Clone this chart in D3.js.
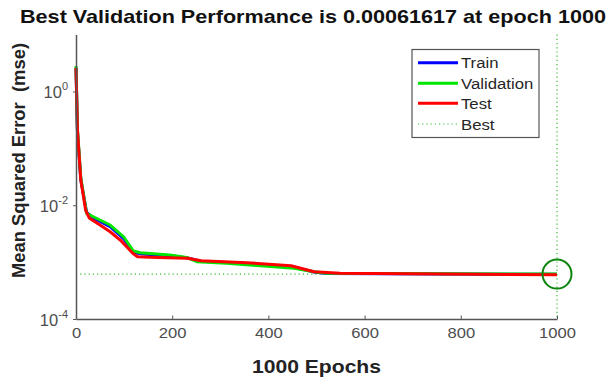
<!DOCTYPE html>
<html><head><meta charset="utf-8">
<script src="https://cdn.jsdelivr.net/npm/d3@7"></script>
<style>body{margin:0;background:#fff}svg{display:block;font-family:"Liberation Sans",Arial,sans-serif}</style>
</head><body><svg id="c" width="613" height="378"></svg>
<script>
const titleText = "Best Validation Performance is 0.00061617 at epoch 1000";
const xLabel = "1000 Epochs";
const yLabel = "Mean Squared Error  (mse)";
const xTicks = [0, 200, 400, 600, 800, 1000];
const yTickExps = [0, -2, -4];
const bestEpoch = 1000;
const bestPerf = 0.00061617;

const trainEpochs = [0, 3, 10, 22, 36, 71, 99, 119, 133, 195, 230, 260, 355, 453, 495, 520, 1000];
const trainValues = [2.6, 0.2, 0.028, 0.0075, 0.0060, 0.0042, 0.0026, 0.00150, 0.00140, 0.00128, 0.00119, 0.00104, 0.00095, 0.00082, 0.00067, 0.00063, 0.00061];
const valEpochs = [0, 3, 10, 22, 36, 71, 99, 119, 133, 195, 230, 251, 313, 453, 495, 520, 1000];
const valValues = [2.8, 0.22, 0.03, 0.0072, 0.00628, 0.00449, 0.00279, 0.00158, 0.00146, 0.00133, 0.00121, 0.00102, 0.000953, 0.000778, 0.000678, 0.00064, 0.00061617];
const testEpochs = [0, 3, 10, 20, 28, 50, 71, 92, 118, 128, 170, 232, 260, 355, 447, 495, 549, 1000];
const testValues = [2.58, 0.21, 0.0277, 0.00824, 0.00589, 0.00449, 0.00342, 0.00244, 0.00143, 0.00124, 0.00121, 0.00117, 0.00106, 0.000975, 0.000865, 0.000678, 0.000635, 0.0006];

const seriesNames = ["Train", "Validation", "Test"];
const seriesColors = ["#0000ff", "#00e600", "#ff0000"];

const svg = d3.select("#c");
const x = d3.scaleLinear().domain([0, 1000]).range([76, 557]);
const y = d3.scaleLog().domain([1e-4, 10]).range([319, 34.6]);

const line = d3.line().x(d => x(d[0])).y(d => y(d[1]));
const series = [
  d3.zip(trainEpochs, trainValues),
  d3.zip(valEpochs, valValues),
  d3.zip(testEpochs, testValues)
];

const bestCol = "#33bb33";
svg.append("line").attr("x1", x(0)).attr("x2", x(1000)).attr("y1", y(bestPerf)).attr("y2", y(bestPerf))
  .attr("stroke", bestCol).attr("stroke-width", 1.2).attr("stroke-dasharray", "1.2,3");
svg.append("line").attr("x1", x(bestEpoch)).attr("x2", x(bestEpoch)).attr("y1", y(10)).attr("y2", y(1e-4))
  .attr("stroke", bestCol).attr("stroke-width", 1.2).attr("stroke-dasharray", "1.2,3");

series.forEach((s, i) => {
  svg.append("path").datum(s).attr("d", line).attr("fill", "none")
    .attr("stroke", seriesColors[i]).attr("stroke-width", 3).attr("stroke-linejoin", "round");
});

svg.append("circle").attr("cx", x(bestEpoch)).attr("cy", y(bestPerf)).attr("r", 14.5)
  .attr("fill", "none").attr("stroke", "#0e850e").attr("stroke-width", 2);

// axes
const axCol = "#555";
const xAxis = svg.append("g").attr("transform", `translate(0,${y(1e-4)})`)
  .call(d3.axisBottom(x).tickValues(xTicks).tickFormat(d3.format("d")).tickSizeInner(-3.5).tickSizeOuter(0).tickPadding(8));
xAxis.select(".domain").attr("stroke", axCol).attr("stroke-width", 1.5);
xAxis.selectAll(".tick line").attr("stroke", axCol);
xAxis.selectAll(".tick text").attr("fill", "#4d4d4d").attr("font-size", 15.5)
  .attr("font-family", "Liberation Sans, Arial, sans-serif").attr("transform", "scale(1.07,1)");

const yAxis = svg.append("g").attr("transform", `translate(${x(0)},0)`)
  .call(d3.axisLeft(y).tickValues(yTickExps.map(e => Math.pow(10, e))).tickSizeInner(3).tickSizeOuter(0).tickFormat(""));
yAxis.select(".domain").attr("stroke", axCol).attr("stroke-width", 1.5);
yAxis.selectAll(".tick line").attr("stroke", axCol);
yTickExps.forEach(e => {
  const t = svg.append("text").attr("x", 68).attr("y", y(Math.pow(10, e)) + 6.5)
    .attr("text-anchor", "end").attr("fill", "#4d4d4d").attr("font-size", 16.5);
  t.append("tspan").text("10");
  t.append("tspan").attr("dy", -7.5).attr("font-size", 11).text(String(e));
});

// titles
svg.append("text").attr("x", 20).attr("y", 23)
  .attr("textLength", 586).attr("lengthAdjust", "spacingAndGlyphs")
  .attr("font-weight", "bold").attr("font-size", 18.5).attr("fill", "#111").text(titleText);
svg.append("text").attr("x", 252).attr("y", 373)
  .attr("textLength", 129).attr("lengthAdjust", "spacingAndGlyphs")
  .attr("font-weight", "bold").attr("font-size", 18.5).attr("fill", "#222").text(xLabel);
svg.append("text").attr("transform", `translate(25,278) rotate(-90)`)
  .attr("xml:space", "preserve").style("white-space", "pre")
  .attr("textLength", 235).attr("lengthAdjust", "spacingAndGlyphs")
  .attr("font-weight", "bold").attr("font-size", 18).attr("fill", "#222").text(yLabel);

// legend
const lg = svg.append("g");
lg.append("rect").attr("x", 412).attr("y", 49.5).attr("width", 127).attr("height", 88)
  .attr("fill", "#fff").attr("stroke", "#555").attr("stroke-width", 1.2);
const legendNames = seriesNames.concat(["Best"]);
const legendY = [62.7, 83.3, 103.3, 124];
legendNames.forEach((n, i) => {
  const ln = lg.append("line").attr("x1", 418).attr("x2", 458).attr("y1", legendY[i]).attr("y2", legendY[i]);
  if (i < 3) ln.attr("stroke", seriesColors[i]).attr("stroke-width", 3);
  else ln.attr("stroke", bestCol).attr("stroke-width", 1.2).attr("stroke-dasharray", "1.2,3");
  lg.append("text").attr("transform", `translate(461,${legendY[i] + 5.5}) scale(1.08,1)`)
    .attr("font-size", 15.5).attr("fill", "#262626").text(n);
});
</script></body></html>
